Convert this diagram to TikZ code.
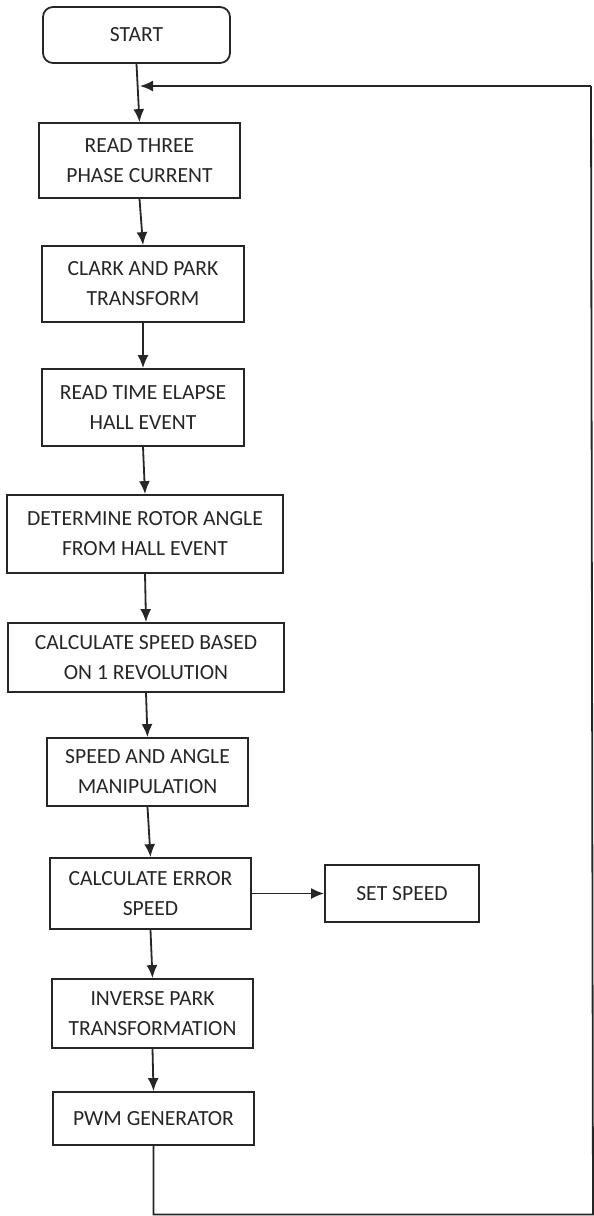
\documentclass[tikz,border=0pt]{standalone}
\usepackage{fontspec}
\setmainfont{Carlito}
\usetikzlibrary{arrows.meta}
\begin{document}
\begin{tikzpicture}[x=1pt,y=-1pt,
  box/.style={draw=black!85,line width=1.8pt,align=center,inner sep=0pt,
    font=\fontsize{21.6}{30}\selectfont,text=black!85},
  conn/.style={line width=1.8pt,draw=black!85,-{Latex[length=13pt,width=11pt]}},
  plain/.style={line width=1.8pt,draw=black!85}]
\useasboundingbox (0,0) rectangle (594,1216);
\node[box,rounded corners=10pt,minimum width=187pt,minimum height=56pt] (start) at (136.5,35) {START};
\node[box,minimum width=201pt,minimum height=75pt] (n1) at (139.5,160.5) {READ THREE\\PHASE CURRENT};
\node[box,minimum width=202pt,minimum height=76pt] (n2) at (143,284) {CLARK AND PARK\\TRANSFORM};
\node[box,minimum width=202pt,minimum height=77pt] (n3) at (143,407.5) {READ TIME ELAPSE\\HALL EVENT};
\node[box,minimum width=276pt,minimum height=78pt] (n4) at (145,534) {DETERMINE ROTOR ANGLE\\FROM HALL EVENT};
\node[box,minimum width=276pt,minimum height=69pt] (n5) at (146,657.5) {CALCULATE SPEED BASED\\ON 1 REVOLUTION};
\node[box,minimum width=201pt,minimum height=68pt] (n6) at (147.5,772) {SPEED AND ANGLE\\MANIPULATION};
\node[box,minimum width=201pt,minimum height=71pt] (n7) at (150.5,893.5) {CALCULATE ERROR\\SPEED};
\node[box,minimum width=154pt,minimum height=57pt] (set) at (402,893.5) {SET SPEED};
\node[box,minimum width=201pt,minimum height=69pt] (n8) at (152.5,1013.5) {INVERSE PARK\\TRANSFORMATION};
\node[box,minimum width=201pt,minimum height=53pt] (n9) at (153.5,1118.5) {PWM GENERATOR};
\coordinate (c1) at (153.5,1214.5);
\coordinate (c2) at (593,1214.5);
\coordinate (c3) at (591,86);
\coordinate (c4) at (140,86);
\draw[conn] (start.south) -- (n1.north);
\draw[conn] (n1.south) -- (n2.north);
\draw[conn] (n2.south) -- (n3.north);
\draw[conn] (n3.south) -- (n4.north);
\draw[conn] (n4.south) -- (n5.north);
\draw[conn] (n5.south) -- (n6.north);
\draw[conn] (n6.south) -- (n7.north);
\draw[conn] (n7.south) -- (n8.north);
\draw[conn] (n8.south) -- (n9.north);
\draw[conn] (n7.east) -- (set.west);
\draw[plain] (n9.south) -- (c1) -- (c2) -- (c3);
\draw[conn] (c3) -- (c4);
\end{tikzpicture}
\end{document}
